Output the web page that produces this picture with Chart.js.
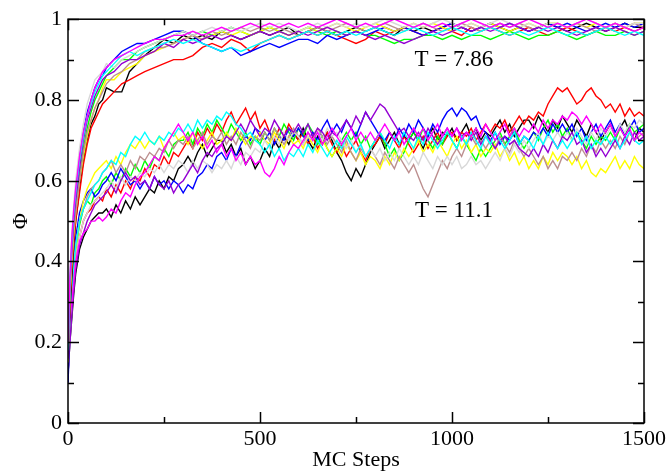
<!DOCTYPE html>
<html>
<head>
<meta charset="utf-8">
<script src="https://cdn.jsdelivr.net/npm/chart.js@4.4.1/dist/chart.umd.min.js"></script>
<style>
  html, body { margin: 0; padding: 0; background: #fff; }
  canvas { display: block; }
</style>
</head>
<body>
<canvas id="chart" width="671" height="471"></canvas>
<script>
// MC steps of the T = 7.86 runs
const hotSteps = [0, 5, 10, 15, 20, 30, 40, 50, 60, 70,
  80, 90, 100, 120, 140, 160, 180, 200, 225, 250,
  275, 300, 325, 350, 375, 400, 425, 450, 475, 500,
  525, 550, 575, 600, 625, 650, 675, 700, 725, 750,
  775, 800, 825, 850, 875, 900, 925, 950, 975, 1000,
  1025, 1050, 1075, 1100, 1125, 1150, 1175, 1200, 1225, 1250,
  1275, 1300, 1325, 1350, 1375, 1400, 1425, 1450, 1475, 1500]

// MC steps of the T = 11.1 runs (sampled finer, they are noisier)
const warmSteps = [0, 5, 10, 15, 20, 30, 40, 50, 60, 70, 80, 90,
  100, 112.5, 125, 137.5, 150, 162.5, 175, 187.5,
  200, 212.5, 225, 237.5, 250, 262.5, 275, 287.5,
  300, 312.5, 325, 337.5, 350, 362.5, 375, 387.5,
  400, 412.5, 425, 437.5, 450, 462.5, 475, 487.5,
  500, 512.5, 525, 537.5, 550, 562.5, 575, 587.5,
  600, 612.5, 625, 637.5, 650, 662.5, 675, 687.5,
  700, 712.5, 725, 737.5, 750, 762.5, 775, 787.5,
  800, 812.5, 825, 837.5, 850, 862.5, 875, 887.5,
  900, 912.5, 925, 937.5, 950, 962.5, 975, 987.5,
  1000, 1012.5, 1025, 1037.5, 1050, 1062.5, 1075, 1087.5,
  1100, 1112.5, 1125, 1137.5, 1150, 1162.5, 1175, 1187.5,
  1200, 1212.5, 1225, 1237.5, 1250, 1262.5, 1275, 1287.5,
  1300, 1312.5, 1325, 1337.5, 1350, 1362.5, 1375, 1387.5,
  1400, 1412.5, 1425, 1437.5, 1450, 1462.5, 1475, 1487.5,
  1500]

const runColors = ['#000000', '#ff0000', '#00ff00', '#0000ff', '#ffff00',
  '#bc8f8f', '#d8d8d8', '#9400d3', '#00ffff', '#ff00ff']

// T = 7.86 runs
const hotBlack = [0.12, 0.28, 0.36, 0.44, 0.5, 0.58, 0.65, 0.7, 0.74, 0.76,
  0.79, 0.8, 0.83, 0.82, 0.82, 0.87, 0.89, 0.91, 0.93, 0.95,
  0.94, 0.96, 0.95, 0.96, 0.95, 0.97, 0.96, 0.95, 0.96, 0.97,
  0.96, 0.97, 0.98, 0.96, 0.97, 0.98, 0.97, 0.96, 0.97, 0.98,
  0.97, 0.98, 0.97, 0.96, 0.98, 0.97, 0.98, 0.97, 0.98, 0.99,
  0.98, 0.97, 0.98, 0.99, 0.98, 0.97, 0.98, 0.97, 0.98, 0.99,
  0.98, 0.97, 0.98, 0.99, 0.98, 0.97, 0.98, 0.99, 0.98, 0.98]
const hotRed = [0.14, 0.3, 0.38, 0.45, 0.5, 0.57, 0.64, 0.69, 0.73, 0.75,
  0.77, 0.79, 0.8, 0.82, 0.84, 0.85, 0.86, 0.87, 0.88, 0.89,
  0.9, 0.9, 0.91, 0.93, 0.94, 0.93, 0.95, 0.94, 0.92, 0.94,
  0.95, 0.96, 0.95, 0.96, 0.97, 0.96, 0.97, 0.96, 0.95, 0.94,
  0.95, 0.97, 0.96, 0.97, 0.98, 0.97, 0.96, 0.97, 0.98, 0.97,
  0.96, 0.98, 0.97, 0.98, 0.97, 0.96, 0.97, 0.98, 0.97, 0.96,
  0.97, 0.98, 0.97, 0.96, 0.97, 0.98, 0.97, 0.98, 0.97, 0.98]
const hotGreen = [0.16, 0.32, 0.42, 0.48, 0.53, 0.61, 0.68, 0.73, 0.77, 0.8,
  0.82, 0.84, 0.86, 0.88, 0.9, 0.9, 0.92, 0.93, 0.94, 0.95,
  0.96, 0.97, 0.96, 0.97, 0.96, 0.97, 0.98, 0.97, 0.96, 0.97,
  0.98, 0.97, 0.96, 0.97, 0.98, 0.97, 0.96, 0.97, 0.96, 0.97,
  0.96, 0.96, 0.95, 0.94, 0.95, 0.95, 0.96, 0.96, 0.95, 0.96,
  0.95, 0.96, 0.96, 0.95, 0.96, 0.97, 0.96, 0.95, 0.96, 0.96,
  0.97, 0.96, 0.95, 0.96, 0.97, 0.96, 0.96, 0.97, 0.96, 0.97]
const hotBlue = [0.1, 0.33, 0.44, 0.52, 0.57, 0.66, 0.72, 0.77, 0.8, 0.83,
  0.85, 0.86, 0.88, 0.9, 0.92, 0.93, 0.94, 0.94, 0.95, 0.96,
  0.97, 0.97, 0.96, 0.94, 0.93, 0.92, 0.93, 0.91, 0.92, 0.93,
  0.94, 0.93, 0.94, 0.95, 0.95, 0.94, 0.96, 0.95, 0.96, 0.97,
  0.96, 0.97, 0.98, 0.97, 0.98, 0.97, 0.96, 0.97, 0.98, 0.99,
  0.98, 0.97, 0.98, 0.99, 0.98, 0.99, 0.98, 0.97, 0.98, 0.99,
  0.98, 0.99, 0.98, 0.97, 0.98, 0.99, 0.98, 0.99, 0.98, 0.99]
const hotYellow = [0.15, 0.31, 0.4, 0.47, 0.52, 0.6, 0.66, 0.71, 0.75, 0.78,
  0.8, 0.83, 0.85, 0.85, 0.87, 0.88, 0.89, 0.91, 0.92, 0.93,
  0.94, 0.95, 0.96, 0.95, 0.96, 0.97, 0.96, 0.97, 0.96, 0.97,
  0.98, 0.97, 0.96, 0.97, 0.98, 0.97, 0.98, 0.99, 0.98, 0.97,
  0.98, 0.99, 0.98, 0.97, 0.98, 0.99, 0.98, 0.99, 0.98, 0.97,
  0.98, 0.99, 0.98, 0.99, 0.98, 0.97, 0.98, 0.99, 0.98, 0.99,
  0.99, 0.98, 0.99, 0.98, 0.99, 0.98, 0.99, 0.98, 0.99, 0.99]
const hotBrown = [0.17, 0.33, 0.41, 0.48, 0.52, 0.6, 0.67, 0.72, 0.75, 0.78,
  0.8, 0.82, 0.84, 0.86, 0.87, 0.89, 0.9, 0.92, 0.93, 0.93,
  0.94, 0.95, 0.96, 0.95, 0.97, 0.96, 0.97, 0.98, 0.97, 0.98,
  0.97, 0.98, 0.97, 0.96, 0.97, 0.98, 0.97, 0.98, 0.99, 0.98,
  0.97, 0.98, 0.99, 0.98, 0.97, 0.98, 0.99, 0.98, 0.97, 0.98,
  0.99, 0.98, 0.97, 0.98, 0.99, 0.98, 0.99, 0.98, 0.97, 0.98,
  0.99, 0.98, 0.99, 0.98, 0.97, 0.98, 0.99, 0.98, 0.99, 0.98]
const hotGrey = [0.2, 0.38, 0.47, 0.54, 0.6, 0.68, 0.74, 0.79, 0.82, 0.85,
  0.86, 0.87, 0.89, 0.88, 0.9, 0.91, 0.92, 0.93, 0.94, 0.95,
  0.96, 0.97, 0.96, 0.97, 0.98, 0.97, 0.98, 0.97, 0.98, 0.99,
  0.98, 0.99, 0.98, 0.97, 0.98, 0.99, 0.98, 0.99, 0.98, 0.99,
  0.98, 0.99, 1.0, 0.99, 0.98, 0.99, 0.98, 0.99, 1.0, 0.99,
  0.98, 0.99, 0.98, 0.99, 1.0, 0.99, 0.98, 0.99, 0.98, 0.99,
  0.99, 0.98, 0.99, 1.0, 0.99, 0.98, 0.99, 0.98, 0.99, 0.99]
const hotViolet = [0.16, 0.34, 0.43, 0.5, 0.55, 0.63, 0.7, 0.75, 0.78, 0.81,
  0.83, 0.85, 0.86, 0.87, 0.89, 0.9, 0.9, 0.91, 0.92, 0.94,
  0.93, 0.95, 0.94, 0.95, 0.96, 0.95, 0.96, 0.95, 0.96, 0.97,
  0.96, 0.97, 0.96, 0.97, 0.96, 0.97, 0.98, 0.97, 0.96, 0.97,
  0.96, 0.95, 0.96, 0.95, 0.94, 0.95, 0.96, 0.97, 0.96, 0.97,
  0.98, 0.97, 0.98, 0.97, 0.98, 0.99, 0.98, 0.97, 0.98, 0.97,
  0.98, 0.97, 0.96, 0.97, 0.98, 0.97, 0.98, 0.97, 0.96, 0.97]
const hotCyan = [0.18, 0.35, 0.45, 0.52, 0.57, 0.65, 0.71, 0.76, 0.79, 0.82,
  0.84, 0.86, 0.87, 0.89, 0.91, 0.92, 0.91, 0.92, 0.93, 0.94,
  0.95, 0.94, 0.95, 0.94, 0.93, 0.92, 0.93, 0.92, 0.93, 0.94,
  0.95, 0.96, 0.95, 0.96, 0.97, 0.96, 0.97, 0.96, 0.97, 0.96,
  0.97, 0.98, 0.97, 0.96, 0.97, 0.98, 0.97, 0.96, 0.97, 0.98,
  0.97, 0.96, 0.97, 0.98, 0.97, 0.96, 0.97, 0.96, 0.97, 0.98,
  0.97, 0.96, 0.97, 0.96, 0.97, 0.98, 0.97, 0.96, 0.97, 0.96]
const hotMagenta = [0.2, 0.36, 0.46, 0.53, 0.58, 0.66, 0.72, 0.76, 0.8, 0.83,
  0.85, 0.87, 0.88, 0.9, 0.91, 0.92, 0.93, 0.94, 0.95, 0.95,
  0.96, 0.96, 0.97, 0.96, 0.97, 0.98, 0.97, 0.98, 0.99, 0.98,
  0.99, 0.98, 0.99, 0.98, 0.99, 0.98, 0.99, 1.0, 0.99, 0.98,
  0.99, 0.98, 0.99, 1.0, 0.99, 0.98, 0.99, 0.98, 0.99, 0.98,
  0.99, 1.0, 0.99, 0.98, 0.99, 0.98, 0.99, 1.0, 0.99, 0.98,
  0.99, 0.98, 0.99, 1.0, 0.99, 0.98, 0.99, 0.98, 0.97, 0.98]

// T = 11.1 runs, one row per 100 MC steps after the first line
const warmBlack = [0.12, 0.2, 0.26, 0.32, 0.37, 0.43, 0.46, 0.48, 0.5, 0.51, 0.52, 0.52,
  0.53, 0.51, 0.54, 0.52, 0.55, 0.53, 0.56, 0.54,
  0.56, 0.58, 0.57, 0.6, 0.58, 0.61, 0.6, 0.63,
  0.64, 0.66, 0.64, 0.67, 0.69, 0.66, 0.68, 0.7,
  0.7, 0.67, 0.69, 0.66, 0.68, 0.64, 0.66, 0.63,
  0.65, 0.68, 0.66, 0.7, 0.68, 0.71, 0.69, 0.72,
  0.7, 0.73, 0.7, 0.68, 0.71, 0.69, 0.72, 0.7,
  0.67, 0.65, 0.62, 0.6, 0.63, 0.61, 0.64, 0.67,
  0.69, 0.71, 0.68, 0.7, 0.72, 0.69, 0.71, 0.7,
  0.72, 0.7, 0.68, 0.71, 0.73, 0.7, 0.72, 0.71,
  0.73, 0.7, 0.72, 0.74, 0.71, 0.73, 0.7, 0.72,
  0.71, 0.73, 0.75, 0.72, 0.74, 0.71, 0.73, 0.75,
  0.75, 0.73, 0.76, 0.74, 0.72, 0.75, 0.73, 0.76,
  0.74, 0.72, 0.75, 0.73, 0.71, 0.74, 0.72, 0.7,
  0.72, 0.74, 0.71, 0.73, 0.75, 0.72, 0.7, 0.73,
  0.72]
const warmRed = [0.14, 0.22, 0.3, 0.35, 0.4, 0.46, 0.5, 0.52, 0.53, 0.55, 0.56, 0.55,
  0.58, 0.56, 0.59, 0.57, 0.6, 0.58, 0.61, 0.6,
  0.63, 0.61, 0.64, 0.63, 0.66, 0.64, 0.67, 0.66,
  0.68, 0.7, 0.68, 0.72, 0.7, 0.73, 0.71, 0.74,
  0.72, 0.75, 0.77, 0.74, 0.76, 0.78, 0.75, 0.77,
  0.73, 0.75, 0.72, 0.7, 0.73, 0.71, 0.74, 0.72,
  0.7, 0.72, 0.69, 0.71, 0.68, 0.7, 0.72, 0.69,
  0.67, 0.69, 0.66, 0.68, 0.7, 0.67, 0.65, 0.68,
  0.69, 0.71, 0.69, 0.72, 0.7, 0.68, 0.71, 0.69,
  0.67, 0.69, 0.71, 0.68, 0.7, 0.72, 0.69, 0.71,
  0.72, 0.7, 0.72, 0.71, 0.73, 0.7, 0.72, 0.74,
  0.72, 0.74, 0.73, 0.75, 0.72, 0.74, 0.76, 0.74,
  0.76, 0.75, 0.77, 0.76, 0.79, 0.81, 0.83, 0.82,
  0.83, 0.81, 0.79, 0.8, 0.82, 0.83, 0.81, 0.8,
  0.78, 0.79, 0.77, 0.79, 0.76, 0.78, 0.76, 0.77,
  0.76]
const warmGreen = [0.16, 0.24, 0.32, 0.38, 0.43, 0.49, 0.53, 0.55, 0.54, 0.57, 0.58, 0.6,
  0.61, 0.59, 0.62, 0.6, 0.63, 0.61, 0.64, 0.62,
  0.65, 0.63, 0.66, 0.65, 0.68, 0.66, 0.69, 0.7,
  0.7, 0.72, 0.69, 0.73, 0.71, 0.74, 0.72, 0.75,
  0.73, 0.71, 0.74, 0.72, 0.7, 0.72, 0.69, 0.71,
  0.69, 0.72, 0.7, 0.73, 0.71, 0.74, 0.72, 0.7,
  0.73, 0.71, 0.74, 0.72, 0.69, 0.71, 0.68, 0.66,
  0.68, 0.7, 0.72, 0.7, 0.72, 0.69, 0.71, 0.68,
  0.7, 0.72, 0.69, 0.66, 0.68, 0.65, 0.67, 0.7,
  0.72, 0.7, 0.73, 0.7, 0.68, 0.71, 0.69, 0.72,
  0.7, 0.68, 0.71, 0.69, 0.67, 0.65, 0.68, 0.66,
  0.68, 0.7, 0.72, 0.69, 0.71, 0.73, 0.7, 0.68,
  0.7, 0.72, 0.7, 0.73, 0.75, 0.72, 0.74, 0.71,
  0.73, 0.7, 0.72, 0.7, 0.68, 0.71, 0.69, 0.71,
  0.7, 0.72, 0.7, 0.73, 0.71, 0.74, 0.72, 0.73,
  0.74]
const warmBlue = [0.1, 0.22, 0.33, 0.4, 0.46, 0.52, 0.55, 0.57, 0.58, 0.56, 0.57, 0.59,
  0.6, 0.62, 0.6, 0.63, 0.61, 0.59, 0.6, 0.58,
  0.6, 0.58, 0.61, 0.59, 0.6, 0.58, 0.6, 0.59,
  0.57, 0.59, 0.58, 0.61, 0.62, 0.64, 0.63, 0.66,
  0.67, 0.65, 0.68, 0.66, 0.69, 0.71, 0.7, 0.73,
  0.72, 0.7, 0.72, 0.69, 0.71, 0.7, 0.73, 0.71,
  0.73, 0.71, 0.7, 0.72, 0.7, 0.73, 0.75, 0.72,
  0.74, 0.72, 0.75, 0.73, 0.71, 0.74, 0.77, 0.75,
  0.73, 0.71, 0.7, 0.72, 0.7, 0.73, 0.71, 0.74,
  0.72, 0.75, 0.73, 0.71, 0.74, 0.72, 0.75, 0.77,
  0.78, 0.76, 0.78, 0.77, 0.75, 0.76, 0.73, 0.72,
  0.7, 0.72, 0.69, 0.71, 0.7, 0.72, 0.69, 0.71,
  0.7, 0.72, 0.71, 0.73, 0.71, 0.74, 0.72, 0.74,
  0.72, 0.74, 0.71, 0.73, 0.7, 0.72, 0.74, 0.71,
  0.73, 0.75, 0.72, 0.74, 0.71, 0.73, 0.75, 0.72,
  0.73]
const warmYellow = [0.15, 0.23, 0.31, 0.37, 0.43, 0.5, 0.55, 0.58, 0.6, 0.62, 0.63, 0.64,
  0.65, 0.63, 0.66, 0.64, 0.67, 0.69, 0.68, 0.7,
  0.68, 0.7, 0.69, 0.71, 0.68, 0.7, 0.72, 0.7,
  0.71, 0.69, 0.72, 0.7, 0.68, 0.7, 0.72, 0.69,
  0.7, 0.72, 0.7, 0.73, 0.71, 0.69, 0.71, 0.7,
  0.72, 0.7, 0.69, 0.72, 0.7, 0.68, 0.71, 0.69,
  0.7, 0.68, 0.71, 0.69, 0.67, 0.7, 0.68, 0.66,
  0.68, 0.66, 0.69, 0.67, 0.65, 0.67, 0.64, 0.66,
  0.65, 0.63, 0.66, 0.64, 0.67, 0.65, 0.68, 0.66,
  0.68, 0.7, 0.67, 0.69, 0.67, 0.7, 0.68, 0.66,
  0.69, 0.71, 0.68, 0.7, 0.67, 0.69, 0.66, 0.68,
  0.67, 0.69, 0.66, 0.68, 0.65, 0.67, 0.64, 0.66,
  0.63, 0.65, 0.63, 0.66, 0.64, 0.67, 0.65, 0.67,
  0.66, 0.64, 0.66, 0.63, 0.65, 0.62, 0.61, 0.63,
  0.62, 0.64, 0.66, 0.63, 0.65, 0.63, 0.66, 0.64,
  0.63]
const warmBrown = [0.17, 0.25, 0.32, 0.38, 0.44, 0.5, 0.53, 0.56, 0.58, 0.59, 0.6, 0.62,
  0.63, 0.65, 0.62, 0.64, 0.62, 0.65, 0.63, 0.66,
  0.65, 0.67, 0.66, 0.68, 0.67, 0.7, 0.68, 0.7,
  0.69, 0.71, 0.68, 0.7, 0.72, 0.69, 0.71, 0.7,
  0.72, 0.69, 0.71, 0.69, 0.72, 0.7, 0.68, 0.71,
  0.7, 0.72, 0.7, 0.73, 0.71, 0.69, 0.71, 0.73,
  0.71, 0.69, 0.72, 0.7, 0.73, 0.71, 0.69, 0.71,
  0.69, 0.67, 0.7, 0.67, 0.65, 0.68, 0.66, 0.68,
  0.66, 0.64, 0.67, 0.65, 0.63, 0.66, 0.64, 0.62,
  0.64, 0.61, 0.58, 0.56, 0.59, 0.62, 0.65, 0.63,
  0.66, 0.68, 0.66, 0.69, 0.71, 0.69, 0.7, 0.68,
  0.7, 0.68, 0.71, 0.69, 0.67, 0.7, 0.68, 0.66,
  0.68, 0.66, 0.64, 0.66, 0.63, 0.65, 0.63, 0.66,
  0.65, 0.67, 0.65, 0.68, 0.66, 0.69, 0.67, 0.7,
  0.68, 0.7, 0.68, 0.71, 0.69, 0.72, 0.7, 0.71,
  0.72]
const warmGrey = [0.13, 0.21, 0.28, 0.34, 0.4, 0.46, 0.5, 0.52, 0.54, 0.55, 0.56, 0.57,
  0.58, 0.6, 0.58, 0.61, 0.59, 0.61, 0.6, 0.62,
  0.61, 0.63, 0.62, 0.64, 0.62, 0.64, 0.63, 0.65,
  0.64, 0.62, 0.65, 0.63, 0.65, 0.64, 0.62, 0.64,
  0.63, 0.65, 0.63, 0.66, 0.64, 0.67, 0.66, 0.68,
  0.67, 0.7, 0.68, 0.71, 0.69, 0.72, 0.7, 0.72,
  0.71, 0.69, 0.71, 0.7, 0.72, 0.7, 0.73, 0.71,
  0.72, 0.7, 0.68, 0.7, 0.67, 0.69, 0.66, 0.68,
  0.66, 0.68, 0.65, 0.67, 0.65, 0.68, 0.66, 0.64,
  0.66, 0.64, 0.67, 0.65, 0.63, 0.66, 0.64, 0.66,
  0.64, 0.66, 0.63, 0.64, 0.66, 0.64, 0.65, 0.63,
  0.65, 0.67, 0.65, 0.68, 0.66, 0.69, 0.67, 0.7,
  0.68, 0.7, 0.72, 0.69, 0.71, 0.7, 0.72, 0.7,
  0.72, 0.7, 0.73, 0.71, 0.69, 0.72, 0.7, 0.73,
  0.71, 0.73, 0.71, 0.74, 0.72, 0.74, 0.73, 0.75,
  0.74]
const warmViolet = [0.12, 0.2, 0.27, 0.33, 0.38, 0.44, 0.47, 0.5, 0.52, 0.54, 0.55, 0.56,
  0.57, 0.59, 0.57, 0.6, 0.62, 0.6, 0.61, 0.59,
  0.6, 0.58, 0.61, 0.59, 0.58, 0.6, 0.57, 0.59,
  0.6, 0.62, 0.64, 0.62, 0.65, 0.67, 0.66, 0.68,
  0.69, 0.71, 0.7, 0.72, 0.74, 0.72, 0.75, 0.73,
  0.71, 0.73, 0.72, 0.75, 0.73, 0.71, 0.73, 0.72,
  0.74, 0.72, 0.74, 0.71, 0.73, 0.72, 0.7, 0.72,
  0.71, 0.73, 0.75, 0.73, 0.76, 0.74, 0.77, 0.75,
  0.77, 0.79, 0.78, 0.76, 0.74, 0.72, 0.73, 0.71,
  0.7, 0.72, 0.7, 0.73, 0.71, 0.69, 0.71, 0.73,
  0.71, 0.73, 0.71, 0.72, 0.7, 0.72, 0.69, 0.71,
  0.7, 0.68, 0.7, 0.71, 0.69, 0.7, 0.68, 0.67,
  0.66, 0.68, 0.66, 0.69, 0.67, 0.7, 0.68, 0.71,
  0.7, 0.72, 0.69, 0.7, 0.67, 0.69, 0.66, 0.68,
  0.66, 0.68, 0.7, 0.68, 0.71, 0.69, 0.72, 0.7,
  0.71]
const warmCyan = [0.18, 0.26, 0.33, 0.39, 0.44, 0.5, 0.53, 0.55, 0.57, 0.59, 0.6, 0.62,
  0.63, 0.65, 0.64, 0.67, 0.66, 0.69, 0.71, 0.7,
  0.72, 0.7, 0.69, 0.71, 0.7, 0.72, 0.71, 0.73,
  0.72, 0.74, 0.72, 0.75, 0.73, 0.75, 0.74, 0.76,
  0.75, 0.77, 0.76, 0.74, 0.73, 0.71, 0.72, 0.7,
  0.69, 0.67, 0.69, 0.66, 0.68, 0.65, 0.67, 0.66,
  0.68, 0.66, 0.69, 0.67, 0.7, 0.68, 0.66, 0.68,
  0.7, 0.68, 0.71, 0.69, 0.67, 0.69, 0.66, 0.68,
  0.7, 0.72, 0.7, 0.68, 0.71, 0.69, 0.72, 0.7,
  0.68, 0.71, 0.69, 0.72, 0.7, 0.68, 0.7, 0.72,
  0.7, 0.68, 0.71, 0.69, 0.72, 0.7, 0.68, 0.71,
  0.69, 0.72, 0.7, 0.68, 0.7, 0.72, 0.69, 0.71,
  0.7, 0.68, 0.71, 0.69, 0.72, 0.7, 0.68, 0.7,
  0.68, 0.7, 0.72, 0.69, 0.71, 0.68, 0.7, 0.69,
  0.71, 0.69, 0.71, 0.68, 0.7, 0.72, 0.7, 0.69,
  0.7]
const warmMagenta = [0.2, 0.26, 0.3, 0.35, 0.4, 0.45, 0.47, 0.48, 0.5, 0.5, 0.51, 0.5,
  0.51, 0.53, 0.52, 0.55, 0.57, 0.56, 0.59, 0.61,
  0.62, 0.64, 0.66, 0.65, 0.68, 0.7, 0.72, 0.74,
  0.72, 0.7, 0.72, 0.69, 0.71, 0.68, 0.7, 0.67,
  0.69, 0.66, 0.68, 0.65, 0.67, 0.64, 0.66, 0.64,
  0.65, 0.62, 0.61, 0.63, 0.66, 0.64, 0.67, 0.69,
  0.68, 0.7, 0.72, 0.7, 0.72, 0.69, 0.71, 0.73,
  0.71, 0.69, 0.71, 0.73, 0.7, 0.72, 0.7, 0.72,
  0.7, 0.72, 0.74, 0.72, 0.7, 0.72, 0.69, 0.71,
  0.73, 0.71, 0.73, 0.7, 0.72, 0.74, 0.71, 0.73,
  0.71, 0.73, 0.7, 0.72, 0.71, 0.73, 0.71, 0.74,
  0.72, 0.7, 0.72, 0.74, 0.71, 0.73, 0.71, 0.73,
  0.72, 0.74, 0.72, 0.75, 0.73, 0.75, 0.74, 0.76,
  0.75, 0.77, 0.76, 0.74, 0.76, 0.74, 0.72, 0.74,
  0.72, 0.74, 0.71, 0.73, 0.71, 0.73, 0.7, 0.72,
  0.71]

const hotRuns = [hotBlack, hotRed, hotGreen, hotBlue, hotYellow,
  hotBrown, hotGrey, hotViolet, hotCyan, hotMagenta]
const warmRuns = [warmBlack, warmRed, warmGreen, warmBlue, warmYellow,
  warmBrown, warmGrey, warmViolet, warmCyan, warmMagenta]

// temperature labels, placed in data units
const noteText = ['T = 7.86', 'T = 11.1']
const noteX = [1005, 1005]
const noteY = [0.9, 0.525]

const xTicks = [0, 500, 1000, 1500]
const yTicks = [0, 0.2, 0.4, 0.6, 0.8, 1]

const serif = '"Liberation Serif", "Times New Roman", serif'

function makeSet(xs, values, color, label) {
    return {
        label: label,
        data: values.map((v, i) => ({ x: xs[i], y: v })),
        borderColor: color,
        borderWidth: 1.4,
        pointRadius: 0,
        tension: 0,
        fill: false
    }
}

const datasets = []
warmRuns.forEach((run, i) => datasets.push(makeSet(warmSteps, run, runColors[i], 'T=11.1 run ' + (i + 1))))
hotRuns.forEach((run, i) => datasets.push(makeSet(hotSteps, run, runColors[i], 'T=7.86 run ' + (i + 1))))
// Chart.js paints the first dataset on top, so flip to get grace order
datasets.reverse()

// box frame, inward ticks on all four sides and the two notes
const frameTicks = {
    id: 'frameTicks',
    afterDatasetsDraw(chart) {
        const { ctx, chartArea: a, scales: { x, y } } = chart
        ctx.save()
        ctx.strokeStyle = '#000'
        ctx.lineWidth = 1.5
        ctx.beginPath()
        for (let v = 0; v <= 1500; v += 250) {
            const px = Math.round(x.getPixelForValue(v)) + 0.5
            const len = v % 500 === 0 ? 11 : 6
            ctx.moveTo(px, a.bottom)
            ctx.lineTo(px, a.bottom - len)
            ctx.moveTo(px, a.top)
            ctx.lineTo(px, a.top + len)
        }
        for (let k = 0; k <= 10; k++) {
            const py = Math.round(y.getPixelForValue(k / 10)) + 0.5
            const len = k % 2 === 0 ? 11 : 6
            ctx.moveTo(a.left, py)
            ctx.lineTo(a.left + len, py)
            ctx.moveTo(a.right, py)
            ctx.lineTo(a.right - len, py)
        }
        ctx.stroke()
        ctx.strokeRect(a.left, a.top, a.right - a.left, a.bottom - a.top)

        ctx.fillStyle = '#000'
        ctx.font = '23px ' + serif
        ctx.textAlign = 'center'
        ctx.textBaseline = 'middle'
        noteText.forEach((t, i) => {
            ctx.fillText(t, x.getPixelForValue(noteX[i]), y.getPixelForValue(noteY[i]))
        })
        ctx.restore()
    }
}

new Chart(document.getElementById('chart'), {
    type: 'line',
    data: { datasets: datasets },
    options: {
        responsive: false,
        animation: false,
        events: [],
        layout: { padding: { left: 0, right: 27, top: 19, bottom: 0 } },
        plugins: {
            legend: { display: false },
            tooltip: { enabled: false }
        },
        scales: {
            x: {
                type: 'linear',
                min: 0,
                max: 1500,
                afterFit: (scale) => { scale.height = 48 },
                afterBuildTicks: (scale) => { scale.ticks = xTicks.map(v => ({ value: v })) },
                grid: { display: false, drawTicks: false },
                border: { display: false },
                ticks: {
                    color: '#000',
                    padding: 3,
                    maxRotation: 0,
                    autoSkip: false,
                    font: { family: serif, size: 22 },
                    callback: (v) => String(v)
                },
                title: {
                    display: true,
                    text: 'MC Steps',
                    color: '#000',
                    padding: { top: 0, bottom: 0 },
                    font: { family: serif, size: 22, lineHeight: 1 }
                }
            },
            y: {
                min: 0,
                max: 1,
                afterFit: (scale) => { scale.width = 68 },
                afterBuildTicks: (scale) => { scale.ticks = yTicks.map(v => ({ value: v })) },
                grid: { display: false, drawTicks: false },
                border: { display: false },
                ticks: {
                    color: '#000',
                    padding: 6,
                    autoSkip: false,
                    font: { family: serif, size: 22 },
                    callback: (v) => String(Math.round(v * 10) / 10)
                },
                title: {
                    display: true,
                    text: 'Φ',
                    color: '#000',
                    padding: { top: 10, bottom: 0 },
                    font: { family: serif, size: 22, lineHeight: 1 }
                }
            }
        }
    },
    plugins: [frameTicks]
})
</script>
</body>
</html>
